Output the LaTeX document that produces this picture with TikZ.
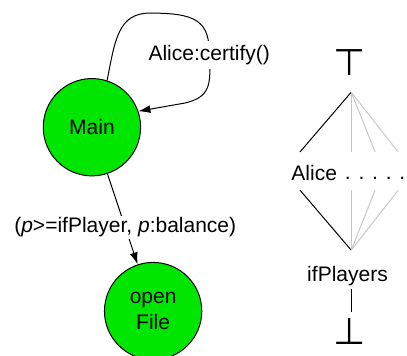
\documentclass[tikz,border=0pt]{standalone}
\usepackage{fontspec}
\setmainfont{Liberation Sans}
\newfontfamily\tackfont{DejaVu Sans}
\usetikzlibrary{arrows.meta}
\definecolor{nodegreen}{RGB}{0,230,0}
\definecolor{latgray}{RGB}{200,200,200}
\newcommand{\lbl}{\fontsize{21}{26}\selectfont}

\begin{document}
\begin{tikzpicture}[
  state/.style={circle, draw, line width=1pt, fill=nodegreen, minimum size=3.42cm, inner sep=0pt, font=\lbl, align=center},
  lab/.style={font=\lbl},
  tack/.style={font=\tackfont\fontsize{37}{37}\selectfont, inner sep=1pt},
  arc/.style={line width=1pt, -{Latex[length=12pt,width=8pt]}},
  lat/.style={line width=1pt},
  latg/.style={line width=1pt, latgray}]
\useasboundingbox (0,0) rectangle (14.30,12.48);
\node[state] (m) at (3.23,8.01) {Main};
\node[state] (f) at (5.38,1.55) {open\\File};
\node[tack] (top) at (12.28,10.28) {⊤};
\node[lab] (alice) at (11.04,6.41) {Alice};
\node[lab] (dots) at (13.18,6.22) {. . . . .};
\node[lab] (ifp) at (12.21,2.79) {ifPlayers};
\node[tack] (bot) at (12.28,0.84) {⊥};
\coordinate (tj) at (12.34,9.24);
\coordinate (a1) at (10.54,7.14);
\coordinate (a2) at (12.34,7.14);
\coordinate (a3) at (13.18,7.14);
\coordinate (a4) at (13.99,7.14);
\coordinate (b1) at (10.54,5.80);
\coordinate (b2) at (12.34,5.80);
\coordinate (b3) at (13.18,5.80);
\coordinate (b4) at (13.99,5.80);
\coordinate (bj) at (12.34,3.69);
\draw[arc] (m) -- node[lab, fill=white, inner sep=2pt, pos=0.59] (bal) {(\textit{p}>=ifPlayer, \textit{p}:balance)} (f);
\draw[arc] (m.72) .. controls (4.04,11.07) and (4.15,12.02) .. (5.27,12.02) .. controls (6.85,12.02) and (7.38,11.77) .. (7.35,10.54) node[lab, fill=white, inner sep=4pt] (cert) {Alice:certify()} .. controls (7.42,9.49) and (7.38,9.07) .. (6.50,8.86) -- (m.19);
\draw[lat] (tj) -- (a1);
\draw[latg] (tj) -- (a2);
\draw[latg] (tj) -- (a3);
\draw[latg] (tj) -- (a4);
\draw[lat] (b1) -- (bj);
\draw[latg] (b2) -- (bj);
\draw[latg] (b3) -- (bj);
\draw[latg] (b4) -- (bj);
\draw[lat, shorten >=5pt] (ifp.south -| bj) -- (bot.north -| bj);
\end{tikzpicture}
\end{document}
